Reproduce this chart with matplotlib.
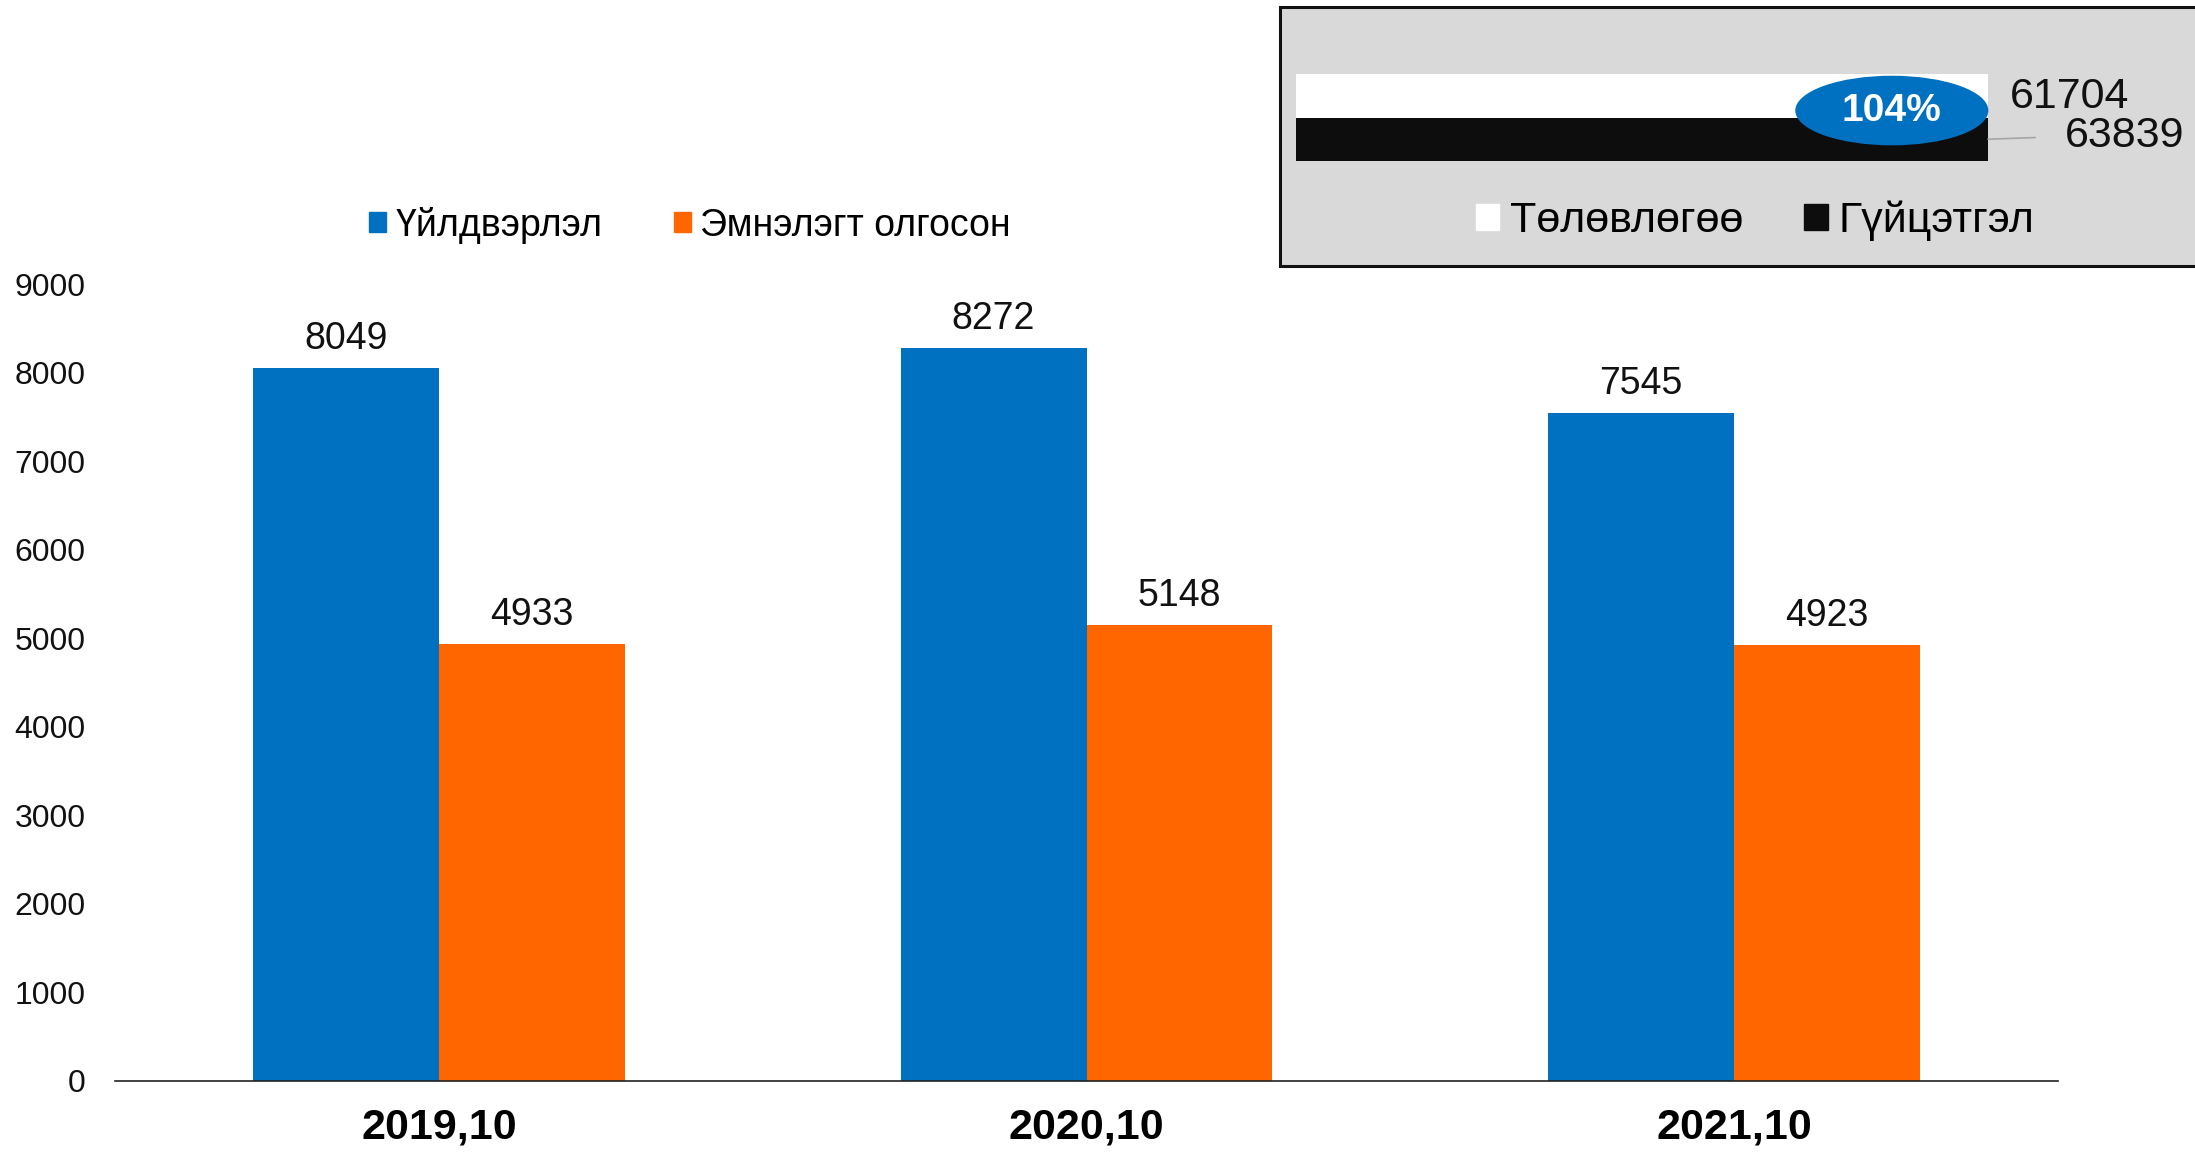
import matplotlib
matplotlib.use("Agg")
import matplotlib.pyplot as plt
from matplotlib.patches import Patch, Ellipse, Rectangle
import numpy as np

plt.rcParams['font.family'] = ['Liberation Sans', 'DejaVu Sans']

# main chart data
periods = ['2019,10', '2020,10', '2021,10']
production = [8049, 8272, 7545]
hospital = [4933, 5148, 4923]
series_names = ['Үйлдвэрлэл', 'Эмнэлэгт олгосон']

# inset: plan vs actual
inset_names = ['Төлөвлөгөө', 'Гүйцэтгэл']
plan = 61704
actual = 63839
pct_label = '104%'

BLUE = '#0070C0'
ORANGE = '#FF6600'

W, H = 2195, 1154
fig = plt.figure(figsize=(W / 100, H / 100), dpi=100)

# ---- main bar chart
ax = fig.add_axes([115 / W, 73 / H, (2058 - 115) / W, (1081 - 284) / H])
x = np.arange(len(periods))
bw = 0.287
b1 = ax.bar(x - bw / 2, production, bw, color=BLUE, label=series_names[0])
b2 = ax.bar(x + bw / 2, hospital, bw, color=ORANGE, label=series_names[1])
for bars in (b1, b2):
    for r in bars:
        ax.annotate(f'{int(r.get_height())}', (r.get_x() + r.get_width() / 2, r.get_height()),
                    xytext=(0, 8), textcoords='offset points', ha='center', va='bottom',
                    fontsize=27, color='#111111')

ax.set_xlim(-0.5, len(periods) - 0.5)
ax.set_ylim(0, 9000)
ax.set_yticks(np.arange(0, 9001, 1000))
ax.set_xticks(x)
ax.set_xticklabels(periods, fontsize=31, fontweight='bold')
ax.tick_params(axis='y', length=0, pad=21, labelsize=23, labelcolor='#111111')
ax.tick_params(axis='x', length=0, pad=19)
for s in ('top', 'right', 'left'):
    ax.spines[s].set_visible(False)
ax.spines['bottom'].set_color('#222222')
ax.spines['bottom'].set_linewidth(1.2)

fig.legend(handles=[Patch(color=BLUE), Patch(color=ORANGE)], labels=series_names,
           loc='center', bbox_to_anchor=(690 / W, 1 - 225 / H), ncol=2, frameon=False,
           fontsize=27, handlelength=0.45, handleheight=0.45,
           handletextpad=0.25, columnspacing=1.9)

# ---- inset box
fig.patches.append(Rectangle((1280 / W, 1 - 266 / H), (W + 20 - 1280) / W, 259 / H,
                             transform=fig.transFigure, facecolor='#D9D9D9',
                             edgecolor='#111111', linewidth=2.2, zorder=0))

# actual on the primary axis, plan on a secondary one (as in the original)
ax_in = fig.add_axes([1296 / W, 1 - 161 / H, 692 / W, 87 / H])
ax_in.set_zorder(3)
ax_in.set_facecolor('none')
ax_in.barh([0], [actual], height=1.0, color='#0D0D0D')
ax_in.set_xlim(0, actual)
ax_in.set_ylim(-0.5, 1.5)
ax_in.axis('off')

ax_plan = ax_in.twiny()
ax_plan.set_zorder(4)
ax_plan.barh([1], [plan], height=1.0, color='white')
ax_plan.set_xlim(0, plan * 0.997)
ax_plan.set_ylim(-0.5, 1.5)
ax_plan.axis('off')

ax_plan.annotate(f'{plan}', (plan, 1), xytext=(14, -1), textcoords='offset points',
                 ha='left', va='center', fontsize=31, color='#111111', annotation_clip=False)
ax_in.annotate(f'{actual}', (actual, 0), xytext=(55, 2), textcoords='offset points',
               ha='left', va='center', fontsize=31, color='#111111', annotation_clip=False,
               arrowprops=dict(arrowstyle='-', color='#A6A6A6', lw=1.2,
                               shrinkA=19, shrinkB=0, relpos=(0, 0.5)))

ax_plan.add_patch(Ellipse((0.861, 0.58), 0.279, 0.8, transform=ax_in.transAxes,
                          facecolor=BLUE, edgecolor='none', clip_on=False, zorder=5))
ax_plan.text(0.861, 0.58, pct_label, transform=ax_in.transAxes, ha='center', va='center',
             fontsize=28, fontweight='bold', color='white', zorder=6)

leg2 = fig.legend(handles=[Patch(color='white'), Patch(color='#0D0D0D')], labels=inset_names,
                  loc='center', bbox_to_anchor=(1755 / W, 1 - 221 / H), ncol=2, frameon=False,
                  fontsize=31, handlelength=0.55, handleheight=0.55,
                  handletextpad=0.25, columnspacing=1.4)
leg2.set_zorder(5)

fig.savefig('out.png', dpi=100)
